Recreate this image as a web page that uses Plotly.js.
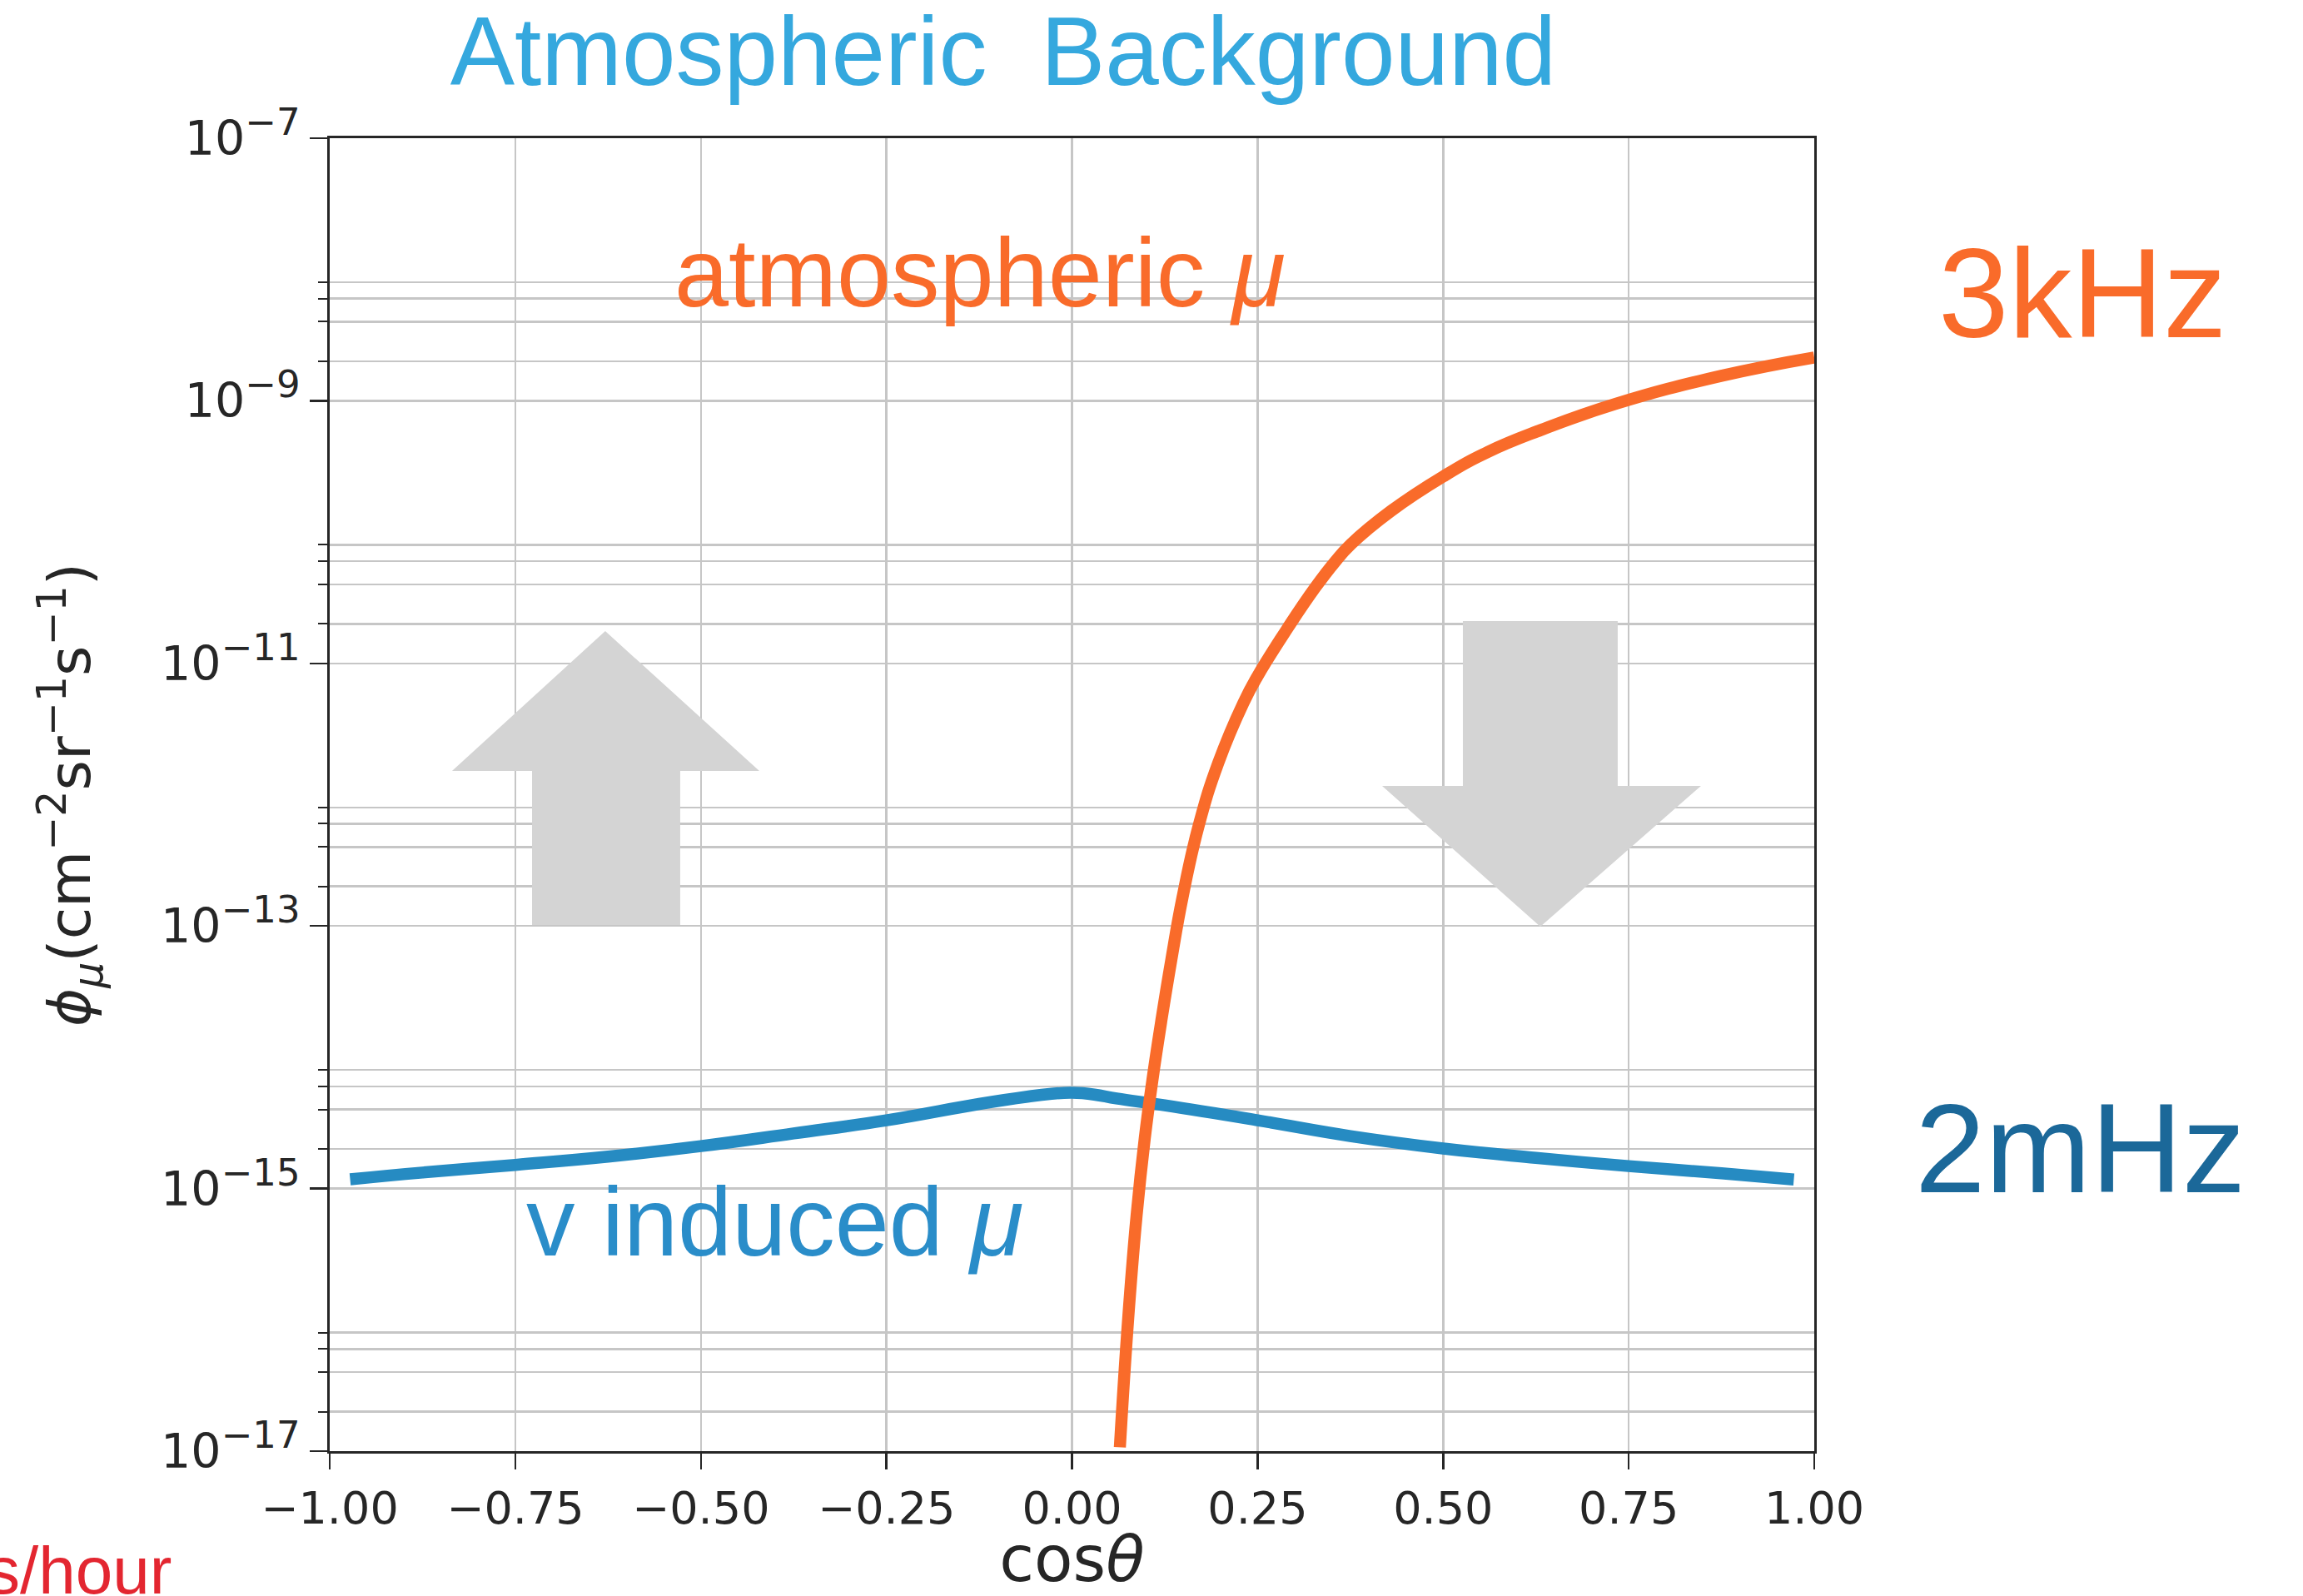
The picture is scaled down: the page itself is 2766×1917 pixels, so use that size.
<!DOCTYPE html>
<html><head><meta charset="utf-8">
<script src="https://cdn.plot.ly/plotly-3.0.1.min.js"></script>
<style>html,body{margin:0;padding:0;background:#fff;}#chart{width:2766px;height:1917px;}</style>
</head><body><div id="chart"></div>
<script>
// ---- data ----
const atmCosTheta = [0.0645, 0.0757, 0.087, 0.098, 0.109, 0.121, 0.134, 0.149, 0.171, 0.197, 0.231, 0.25, 0.293, 0.328, 0.354, 0.376, 0.43, 0.5, 0.56, 0.632, 0.733, 0.875, 1.0];
const atmFlux = [1.07e-17, 1.02e-16, 6.2e-16, 2.4e-15, 7.1e-15, 2.0e-14, 5.6e-14, 1.66e-13, 5.9e-13, 1.74e-12, 5.0e-12, 8.0e-12, 1.95e-11, 3.8e-11, 5.9e-11, 8.1e-11, 1.45e-10, 2.65e-10, 4.07e-10, 6.0e-10, 9.5e-10, 1.55e-9, 2.14e-9];

const nuCosTheta = [-0.9725, -0.875, -0.75, -0.625, -0.5, -0.375, -0.25, -0.125, -0.06, -0.03, 0.0, 0.03, 0.06, 0.125, 0.25, 0.375, 0.5, 0.625, 0.75, 0.875, 0.9725];
const nuFlux = [1.175e-15, 1.324e-15, 1.514e-15, 1.75e-15, 2.104e-15, 2.63e-15, 3.31e-15, 4.41e-15, 5.01e-15, 5.25e-15, 5.36e-15, 5.2e-15, 4.85e-15, 4.3e-15, 3.31e-15, 2.51e-15, 2.02e-15, 1.714e-15, 1.483e-15, 1.306e-15, 1.172e-15];

const xTickVals = [-1, -0.75, -0.5, -0.25, 0, 0.25, 0.5, 0.75, 1];
const xTickText = ['−1.00', '−0.75', '−0.50', '−0.25', '0.00', '0.25', '0.50', '0.75', '1.00'];
const yTickVals = [1e-17, 1e-15, 1e-13, 1e-11, 1e-9, 1e-7];
const yTickExp = ['−17', '−15', '−13', '−11', '−9', '−7'];
const yMinorVals = [2e-17, 4e-17, 6e-17, 8e-17, 2e-15, 4e-15, 6e-15, 8e-15, 2e-13, 4e-13, 6e-13, 8e-13, 2e-11, 4e-11, 6e-11, 8e-11, 2e-9, 4e-9, 6e-9, 8e-9];

const titleText = 'Atmospheric\u00a0 Background';
const xTitle = 'cos<i>θ</i>';
const yTitle = '<i>ϕ</i><sub><i>μ</i></sub>(cm<sup>−2</sup>sr<sup>−1</sup>s<sup>−1</sup>)';
const atmLabel = 'atmospheric <i>μ</i>';
const nuLabel = 'v induced <i>μ</i>';
const atmRate = '3kHz';
const nuRate = '2mHz';
const cutText = 's/hour';

// ---- styles ----
const ORANGE = '#f96b2a';
const BLUE = '#268bc2';
const SANS = 'Liberation Sans, Arial, Helvetica, sans-serif';
const GRID = '#c6c6c6';
const yTickText = yTickExp.map(e => '10<sup><span style="font-size:45px">' + e + '</span></sup>');

const traces = [
  {x: nuCosTheta, y: nuFlux, mode: 'lines', line: {color: BLUE, width: 14.5, shape: 'spline', smoothing: 1.3}, hoverinfo: 'skip'},
  {x: atmCosTheta, y: atmFlux, mode: 'lines', line: {color: ORANGE, width: 14.5, shape: 'spline', smoothing: 1.3}, hoverinfo: 'skip'}
];

const layout = {
  width: 2766, height: 1917,
  paper_bgcolor: '#ffffff', plot_bgcolor: '#ffffff',
  margin: {l: 396, r: 587, t: 166, b: 174, pad: 0},
  showlegend: false,
  title: {text: titleText, x: 0.4356, xref: 'container', xanchor: 'center', y: 0.968, yref: 'container', yanchor: 'middle',
          font: {family: SANS, size: 116, color: '#35a8de'}},
  xaxis: {
    range: [-1, 1], tickmode: 'array', tickvals: xTickVals, ticktext: xTickText,
    ticks: 'outside', ticklen: 19, tickwidth: 2.5, tickcolor: '#262626',
    showline: true, linecolor: '#262626', linewidth: 3, mirror: true,
    showgrid: true, gridcolor: GRID, gridwidth: 2.5, zeroline: false,
    tickfont: {family: 'DejaVu Sans', size: 54, color: '#262626'},
    title: {text: xTitle, font: {family: 'DejaVu Sans', size: 76, color: '#262626'}, standoff: 24}
  },
  yaxis: {
    type: 'log', range: [-17, -7], tickmode: 'array', tickvals: yTickVals, ticktext: yTickText,
    ticks: 'outside', ticklen: 21, tickwidth: 2.5, tickcolor: '#262626',
    showline: true, linecolor: '#262626', linewidth: 3, mirror: true,
    showgrid: true, gridcolor: GRID, gridwidth: 2.5, zeroline: false,
    tickfont: {family: 'DejaVu Sans', size: 57, color: '#262626'},
    minor: {tickmode: 'array', tickvals: yMinorVals, ticks: 'outside', ticklen: 11, tickwidth: 2, tickcolor: '#262626',
            showgrid: true, gridcolor: GRID, gridwidth: 2.5},
    title: {text: yTitle, font: {family: 'DejaVu Sans', size: 70, color: '#262626'}, standoff: 62}
  },
  shapes: [
    {type: 'path', xref: 'paper', yref: 'paper', layer: 'above', line: {width: 0}, fillcolor: '#d4d4d4',
     path: 'M 0.1363 0.4008 L 0.1363 0.518 L 0.0824 0.518 L 0.1856 0.6246 L 0.2894 0.518 L 0.2361 0.518 L 0.2361 0.4008 Z'},
    {type: 'path', xref: 'paper', yref: 'paper', layer: 'above', line: {width: 0}, fillcolor: '#d4d4d4',
     path: 'M 0.7633 0.6322 L 0.8676 0.6322 L 0.8676 0.5067 L 0.9237 0.5067 L 0.8155 0.3995 L 0.7089 0.5067 L 0.7633 0.5067 Z'}
  ],
  annotations: [
    {text: atmLabel, xref: 'paper', yref: 'paper', x: 0.2311, y: 0.8973, xanchor: 'left', yanchor: 'middle', showarrow: false,
     font: {family: SANS, size: 117, color: ORANGE}},
    {text: nuLabel, xref: 'paper', yref: 'paper', x: 0.1312, y: 0.175, xanchor: 'left', yanchor: 'middle', showarrow: false,
     font: {family: SANS, size: 117, color: '#2a8dc9'}},
    {text: atmRate, xref: 'paper', yref: 'paper', x: 1.0824, y: 0.882, xanchor: 'left', yanchor: 'middle', showarrow: false,
     font: {family: SANS, size: 152, color: ORANGE}},
    {text: nuRate, xref: 'paper', yref: 'paper', x: 1.0667, y: 0.2308, xanchor: 'left', yanchor: 'middle', showarrow: false,
     font: {family: SANS, size: 152, color: '#1b6899'}},
    {text: cutText, xref: 'paper', yref: 'paper', x: -0.1054, y: -0.0913, xanchor: 'right', yanchor: 'middle', showarrow: false,
     font: {family: SANS, size: 80, color: '#e32630'}}
  ]
};

Plotly.newPlot('chart', traces, layout, {staticPlot: true, displayModeBar: false});
</script>
</body></html>
